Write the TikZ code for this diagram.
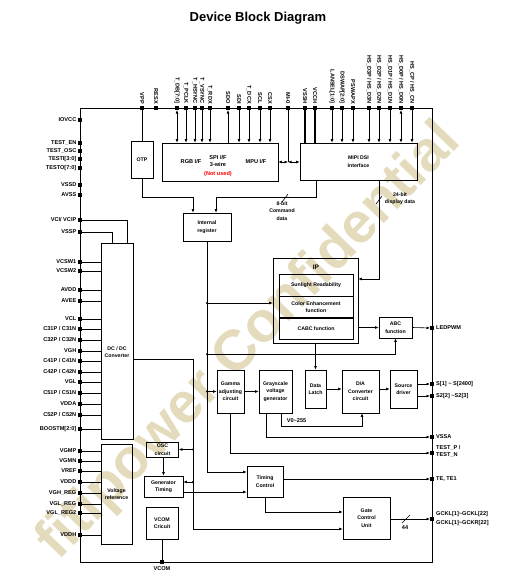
\documentclass[tikz,border=0pt]{standalone}
\usepackage{fontspec}
\setmainfont{Liberation Sans}
\usetikzlibrary{arrows.meta,positioning}
\definecolor{wm}{RGB}{228,219,188}

\begin{document}
\begin{tikzpicture}[
  x=1pt, y=-1pt,
  >={Latex[length=3.5pt,width=2.8pt]},
  every node/.style={font=\bfseries\fontsize{5.6}{7}\selectfont, inner sep=0pt},
  blk/.style={draw, line width=0.6pt, align=center, font=\bfseries\fontsize{5.2}{7.5}\selectfont},
  pin/.style={fill=black, minimum size=3.6pt},
  wire/.style={line width=0.6pt},
  lead/.style={line width=0.9pt},
  heavy/.style={line width=1.4pt},
  cut/.style={line width=0.6pt}]
\useasboundingbox (0,0) rectangle (515,587);

\node[rotate=46, text=wm, font=\bfseries\fontsize{57}{64}\selectfont] (mark) at (250,342) {fitipower Confidential};
\node[font=\bfseries\fontsize{13}{15}\selectfont] (title) at (258,18) {Device Block Diagram};

\draw[line width=1pt] (80,108) rectangle (432,562);

% pins on the top edge
\foreach \n/\x/\t in {vpp/142/VPP, resx/156/RESX, tdb/177/T\_DB[7:0], tpclk/186/T\_PCLK,
    thsync/195/T\_HSYNC, tvsync/202/T\_VSYNC, trdx/210/T\_RDX, sdo/228/SDO, sdi/239/SDI,
    tdcx/249/T\_DCX, scl/260/SCL, csx/270/CSX, imo/288/MI-0, vssh/305/VSSH, vcch/315/VCCH,
    lansel/332/LANSEL[1:0], dswap/342/DSWAP[2:0], pswapx/353/PSWAPX,
    hsd3/369/{HS\_D3P / HS\_D3N}, hsd2/379/{HS\_D2P / HS\_D2N}, hsd1/390/{HS\_D1P / HS\_D1N},
    hsd0/401/{HS\_D0P / HS\_D0N}, hsc/412/{HS\_CP / HS\_CN}} {
  \node[pin] (\n) at (\x,108) {};
  \node[rotate=-90, anchor=east] (l\n) at (\x,104) {\t};
}

% pins on the left edge
\foreach \n/\y/\t in {iovcc/120/IOVCC, testen/143/TEST\_EN, testosc/151/TEST\_OSC,
    testi/159/TESTI[3:0], testo/168/TESTO[7:0], vssd/185/VSSD, avss/195/AVSS,
    vci/220/{VCI/ VCIP}, vssp/232/VSSP, vcsw1/262/VCSW1, vcsw2/271/VCSW2, avdd/290/AVDD,
    avee/301/AVEE, vcl/319/VCL, c31/329/{C31P / C31N}, c32/340/{C32P / C32N}, vgh/351/VGH,
    c41/361/{C41P / C41N}, c42/372/{C42P / C42N}, vgl/382/VGL, c51/393/{C51P / C51N},
    vdda/404/VDDA, c52/415/{C52P / C52N}, boostm/429/BOOSTM[2:0], vgmp/451/VGMP,
    vgmn/461/VGMN, vref/471/VREF, vddd/482/VDDD, vghreg/493/VGH\_REG, vglreg/504/VGL\_REG,
    vglreg2/513/VGL\_REG2, vddh/535/VDDH} {
  \node[pin] (\n) at (80,\y) {};
  \node[anchor=east] (l\n) at (76.5,\y) {\t};
}

% pins on the right edge
\node[pin] (ledpwm) at (432,328) {};
\node[pin] (s1) at (432,384) {};
\node[pin] (s2) at (432,396) {};
\node[pin] (vssa) at (432,437) {};
\node[pin] (testp) at (432,453) {};
\node[pin] (te) at (432,479) {};
\node[pin] (gckl) at (432,519) {};
\node[pin] (vcom) at (162,562) {};
\node[anchor=west] (lledpwm) at (436,328) {LEDPWM};
\node[anchor=west] (ls1) at (436,384) {S[1] \textasciitilde{} S[2400]};
\node[anchor=west] (ls2) at (436,396) {S2[2] \textasciitilde S2[3]};
\node[anchor=west] (lvssa) at (436,437) {VSSA};
\node[anchor=west, align=left] (ltestp) at (436,451.5) {TEST\_P /\\TEST\_N};
\node[anchor=west] (lte) at (436,479) {TE, TE1};
\node[anchor=west, align=left, font=\bfseries\fontsize{5.6}{9}\selectfont] (lgckl) at (436,518.5) {GCKL[1]\textasciitilde GCKL[22]\\GCKL[1]\textasciitilde GCKR[22]};
\node (lvcom) at (162,569) {VCOM};

% blocks
\node[blk, minimum width=22pt, minimum height=37pt] (otp) at (142,159.5) {OTP};
\node[blk, minimum width=116pt, minimum height=38pt] (ifbox) at (220,162) {};
\node (rgbif) at (191,162) {RGB I/F};
\node[align=center] (spiif) at (218,160.5) {SPI I/F\\3-wire};
\node[text=red] (notused) at (218,174) {(Not used)};
\node (mpuif) at (256,162) {MPU I/F};
\node[blk, minimum width=117pt, minimum height=37pt] (mipi) at (358.5,161.5) {MIPI DSI\\Interface};
\node[blk, minimum width=48pt, minimum height=28pt] (reg) at (207,227) {Internal\\register};

\node[blk, minimum width=85pt, minimum height=85pt] (ip) at (315.5,300.5) {};
\node[font=\bfseries\fontsize{6.5}{7}\selectfont] (iplbl) at (316,267) {IP};
\node[blk, minimum width=74pt, minimum height=22pt] (sun) at (316,285) {Sunlight Readability};
\node[blk, minimum width=74pt, minimum height=21pt, below=0pt of sun] (color) {Color Enhancement\\function};
\node[blk, minimum width=74pt, minimum height=21pt, below=0pt of color] (cabc) {CABC function};
\node[blk, minimum width=33pt, minimum height=21pt] (abc) at (395.5,327.5) {ABC\\function};

\node[blk, minimum width=27pt, minimum height=43pt] (gamma) at (230.5,391.5) {Gamma\\adjusting\\circuit};
\node[blk, minimum width=33pt, minimum height=43pt] (gray) at (275.5,391.5) {Grayscale\\voltage\\generator};
\node[blk, minimum width=21pt, minimum height=38pt] (latch) at (315.5,389) {Data\\Latch};
\node[blk, minimum width=37pt, minimum height=43pt] (dac) at (360.5,391.5) {D/A\\Converter\\circuit};
\node[blk, minimum width=27pt, minimum height=38pt] (src) at (403.5,389) {Source\\driver};

\node[blk, minimum width=36pt, minimum height=31pt] (timing) at (265,481.5) {Timing\\Control};
\node[blk, minimum width=47pt, minimum height=42pt] (gate) at (366.5,518) {Gate\\Control\\Unit};
\node[blk, minimum width=32pt, minimum height=15pt] (osc) at (162.5,449.5) {OSC\\circuit};
\node[blk, minimum width=39pt, minimum height=21pt] (gen) at (163.5,486.5) {Generator\\Timing};
\node[blk, minimum width=32pt, minimum height=32pt] (vcomc) at (162,523) {VCOM\\Cricuit};
\node[blk, minimum width=32pt, minimum height=196pt] (dcdc) at (117,341) {};
\node[align=center, font=\bfseries\fontsize{5.2}{7}\selectfont] (dcdctxt) at (117,352) {DC / DC\\Converter};
\node[blk, minimum width=31pt, minimum height=100pt] (vrefc) at (116.5,494) {Voltage\\reference};

% top connections
\draw[wire] (vpp) -- (otp.north);
\draw[wire,<->] (tdb) -- (tdb |- ifbox.north);
\draw[wire,<-] (sdo) -- (sdo |- ifbox.north);
\foreach \n in {tpclk,thsync,tvsync,trdx,sdi,tdcx,scl,csx}
  \draw[wire,->] (\n) -- (\n |- ifbox.north);
\foreach \n in {lansel,dswap,pswapx,hsd3,hsd2,hsd1,hsc}
  \draw[wire,->] (\n) -- (\n |- mipi.north);
\draw[wire,<->] (hsd0) -- (hsd0 |- mipi.north);
\draw[heavy] (vssh) -- (vssh |- mipi.north);
\draw[heavy] (vcch) -- (vcch |- mipi.north);
\coordinate (imj) at (imo |- ifbox.east);
\draw[wire] (imo) -- (imj);
\draw[wire,<->] (ifbox.east) -- (imj);
\draw[wire,<->] (imj) -- (mipi.west |- imj);

% into the register and the IP
\draw[wire,->] (otp.south) |- ([xshift=-14pt,yshift=15pt]reg.north) -- ([xshift=-14pt]reg.north);
\draw[wire,->] ([xshift=-42.5pt]mipi.south) |- ([xshift=9pt,yshift=15pt]reg.north) -- ([xshift=9pt]reg.north);
\coordinate (cmdcut) at (285,198);
\draw[cut] ([shift={(-3,4)}]cmdcut) -- ([shift={(3,-4)}]cmdcut);
\node[align=center, font=\bfseries\fontsize{5.2}{7.8}\selectfont] (cmdlbl) at (282,211) {8-bit\\Command\\data};
\draw[wire,->] ([xshift=20.5pt]mipi.south) |- ([yshift=21.5pt]ip.east);
\coordinate (dispcut) at (379,200);
\draw[cut] ([shift={(-3,4)}]dispcut) -- ([shift={(3,-4)}]dispcut);
\node[align=center, font=\bfseries\fontsize{5.2}{7}\selectfont] (displbl) at (400,198.5) {24-bit\\display data};

% register trunk
\coordinate (tcin1) at ([yshift=9.5pt]timing.west);
\coordinate (tcin2) at ([yshift=-10.5pt]timing.west);
\coordinate (ipin) at ([yshift=-2.5pt]ip.west);
\coordinate (abcbus) at ([yshift=-16pt]abc.south);
\draw[wire,->] (reg.south) |- (tcin1);
\draw[wire,->] (reg.south |- ipin) -- (ipin);
\draw[wire,->] (reg.south |- abcbus) -| (abc.south);
\draw[wire,->] (reg.south |- gamma.west) -- (gamma.west);
\foreach \p in {ipin,abcbus,gamma.west}
  \fill (reg.south |- \p) circle (1.1pt);

% data path
\draw[wire,->] (ip.east |- abc.west) -- (abc.west);
\draw[wire,->] (abc.east) -- (ledpwm);
\draw[wire,->] (ip.south) -- (latch.north);
\draw[wire,->] (gamma.east) -- (gray.west);
\draw[wire,->] (latch.east) -- (latch.east -| dac.west);
\draw[wire,->] (dac.east |- src.west) -- (src.west);
\draw[wire,->] (src.east |- s1) -- (s1);
\draw[wire,->] (src.east |- s2) -- (s2);
\draw[wire,->] ([xshift=5.5pt]gray.south) |- ([xshift=1.5pt,yshift=-13pt]dac.south) -- ([xshift=1.5pt]dac.south);
\node (vlbl) at (296.5,421) {V0\textasciitilde255};
\draw[wire,->] ([xshift=-9.5pt]gray.south) |- (vssa);
\draw[wire,->] (gamma.south) |- (testp);

% timing and gate
\draw[wire,->] (timing.east |- te) -- (te);
\draw[wire,->] (timing.south) |- ([yshift=6pt]gate.west);
\coordinate (gatecut) at (406,519);
\draw[wire,->] (gate.east |- gckl) -- (gckl);
\draw[cut] ([shift={(-4,4)}]gatecut) -- ([shift={(4,-4)}]gatecut);
\node (buslbl) at (405,527.5) {44};

% supply side
\draw[lead] (vci) -| ([xshift=10pt]dcdc.north);
\draw[lead] (vssp) -| ([xshift=-5pt]dcdc.north);
\foreach \n in {vcsw1,vcsw2,avdd,avee,vcl,c31,c32,vgh,c41,c42,vgl,c51,vdda,c52,boostm}
  \draw[lead] (\n) -- (\n -| dcdc.west);
\foreach \n in {vgmp,vgmn,vref,vddd,vghreg,vglreg,vglreg2,vddh}
  \draw[lead] (\n) -- (\n -| vrefc.west);
\coordinate (dcc) at (193,359);
\coordinate (genin) at ([yshift=4.5pt]gen.east);
\draw[wire,->] (dcdc.east |- dcc) -- (dcc) |- ([yshift=-11pt]gate.west);
\draw[wire,->] (dcc |- osc.east) -- (osc.east);
\draw[wire,->] (dcc |- genin) -- (genin);
\fill (dcc |- osc.east) circle (1.1pt);
\fill (dcc |- genin) circle (1.1pt);
\draw[wire,->] (osc.south -| gen.north) -- (gen.north);
\draw[wire,->] (gen.east |- tcin2) -- (tcin2);
\draw[wire] (vcomc.south) -- (vcom);
\end{tikzpicture}
\end{document}
